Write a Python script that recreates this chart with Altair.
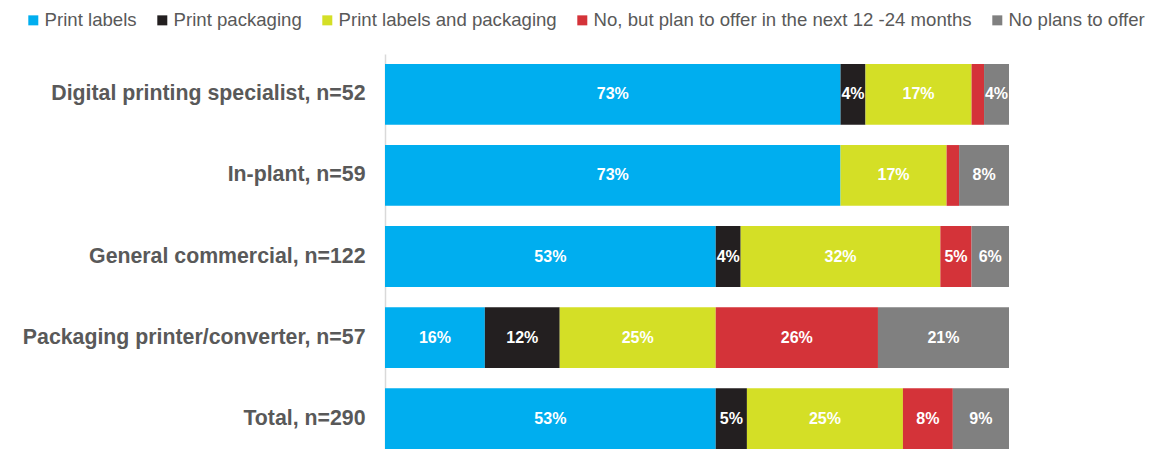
import altair as alt
import pandas as pd

categories = [
    "Digital printing specialist, n=52",
    "In-plant, n=59",
    "General commercial, n=122",
    "Packaging printer/converter, n=57",
    "Total, n=290",
]
series = [
    "Print labels",
    "Print packaging",
    "Print labels and packaging",
    "No, but plan to offer in the next 12 -24 months",
    "No plans to offer",
]
colors = ["#00AEEF", "#231F20", "#D4DF26", "#D43339", "#808080"]

print_labels = [73, 73, 53, 16, 53]
print_packaging = [4, 0, 4, 12, 5]
labels_and_packaging = [17, 17, 32, 25, 25]
plan_to_offer = [2, 2, 5, 26, 8]
no_plans = [4, 8, 6, 21, 9]

values_by_series = [print_labels, print_packaging, labels_and_packaging, plan_to_offer, no_plans]

rows = []
for si, (s, vals) in enumerate(zip(series, values_by_series)):
    for c, v in zip(categories, vals):
        rows.append({"cat": c, "series": s, "order": si, "value": v})
df = pd.DataFrame(rows)

FONT = "Liberation Sans"

yscale = alt.Scale(paddingInner=0.25, paddingOuter=0.0617, align=1)

base = alt.Chart(df).transform_stack(
    stack="value", as_=["x0", "x1"], groupby=["cat"], sort=[alt.SortField("order", "ascending")]
).transform_calculate(mid="(datum.x0 + datum.x1) / 2", label="datum.value + '%'")

bars = base.mark_bar().encode(
    y=alt.Y(
        "cat:N",
        sort=categories,
        scale=yscale,
        title=None,
        axis=alt.Axis(
            labelFont=FONT,
            labelFontSize=21.3,
            labelFontWeight="bold",
            labelColor="#595959",
            labelPadding=20,
            labelLimit=600,
            ticks=False,
            domainColor="#d9d9d9",
            domainWidth=1.5,
            grid=False,
        ),
    ),
    x=alt.X("x0:Q", scale=alt.Scale(domain=[0, 100], nice=False), axis=None),
    x2="x1:Q",
    color=alt.Color(
        "series:N",
        sort=series,
        scale=alt.Scale(domain=series, range=colors),
        legend=alt.Legend(
            title=None,
            orient="none",
            legendX=-361,
            legendY=-43,
            direction="horizontal",
            symbolType="square",
            symbolSize=100,
            symbolStrokeWidth=0,
            labelFont=FONT,
            labelFontSize=18.6,
            labelColor="#595959",
            labelLimit=600,
            labelOffset=2,
            columnPadding=16,
            padding=0,
        ),
    ),
)

text = base.transform_filter("datum.value >= 3").mark_text(
    color="white", fontWeight="bold", fontSize=16, font=FONT
).encode(
    y=alt.Y("cat:N", sort=categories, scale=yscale),
    x=alt.X("mid:Q"),
    text=alt.Text("label:N"),
)

chart = alt.layer(bars, text).properties(
    width=624,
    height=395,
    padding={"left": 377, "top": 46, "right": 142, "bottom": 0},
    autosize=alt.AutoSizeParams(type="none"),
).configure_view(stroke=None)

chart.save("out.html", embed_options={"renderer": "svg", "actions": False})
